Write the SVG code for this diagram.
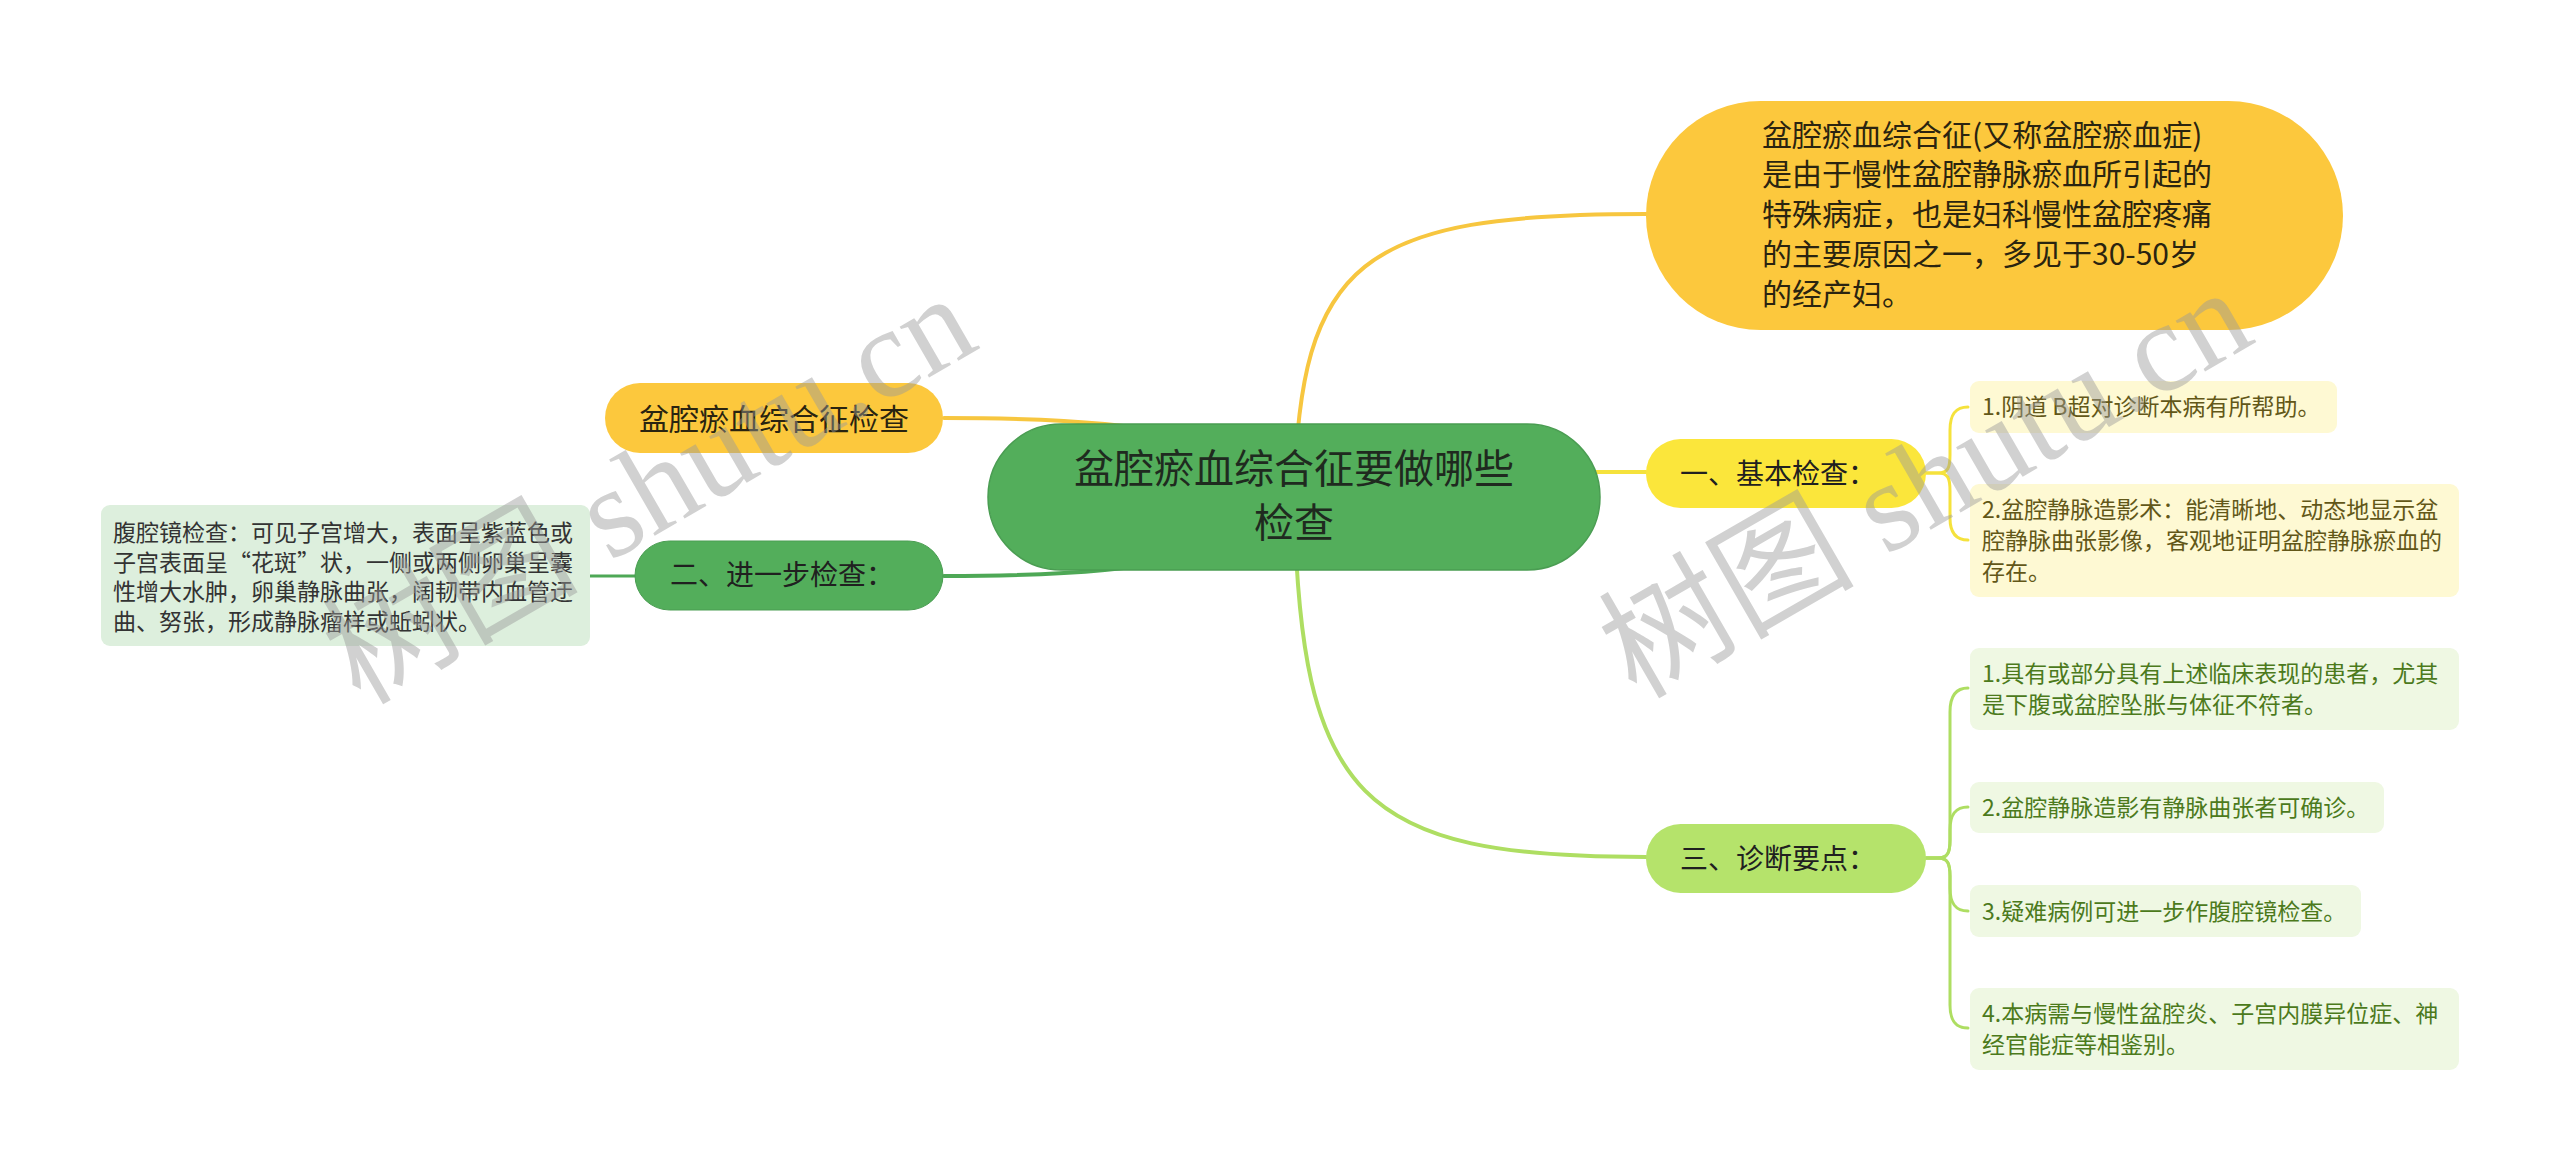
<svg xmlns="http://www.w3.org/2000/svg" width="2560" height="1171" viewBox="0 0 2560 1171">
<style>
text{font-family:"Noto Sans CJK SC","Liberation Sans",sans-serif}
.c{fill:none;stroke-linecap:round}
.t40{font-size:40px;fill:#1f2a1f}
.t30{font-size:30px;fill:#2a2410}
.t28{font-size:28px;fill:#202020}
.ty{font-size:23px;fill:#625718}
.tg{font-size:23px;fill:#4c7a1c}
.tl{font-size:23px;fill:#333333}
.wm{font-family:"Liberation Serif","Noto Sans CJK SC",serif;font-size:128px;fill:#9a9a9a;opacity:0.45}
</style>
<rect width="2560" height="1171" fill="#ffffff"/>
<g id="connectors">
<path class="c" d="M1294,497 C1300,260 1360,214 1646,214" stroke="#f7c63f" stroke-width="4"/>
<path class="c" d="M1294,472 L1646,472" stroke="#f5e23c" stroke-width="4"/>
<path class="c" d="M1294,497 C1300,800 1360,857 1646,857" stroke="#aede62" stroke-width="4"/>
<path class="c" d="M1294,460 C1150,420 1050,418 944,418" stroke="#f7c63f" stroke-width="4"/>
<path class="c" d="M1294,534 C1150,574 1050,576 944,576" stroke="#4ea856" stroke-width="4"/>
<path class="c" d="M590,576 L635,576" stroke="#4ea856" stroke-width="3"/>
<g stroke="#f5e23c" stroke-width="3" class="c">
<path class="c" d="M1926,473 L1938,473 C1948,473 1950,468 1950,455 L1950,430 C1950,415 1955,407 1968,407"/>
<path class="c" d="M1926,473 L1938,473 C1948,473 1950,478 1950,491 L1950,518 C1950,532 1955,540 1968,540"/>
</g>
<g stroke="#aede62" stroke-width="3" class="c">
<path class="c" d="M1926,858 L1938,858 C1948,858 1950,852 1950,840 L1950,712 C1950,697 1955,688 1968,688"/>
<path class="c" d="M1926,858 L1938,858 C1948,858 1950,852 1950,840 L1950,830 C1950,815 1955,807 1968,807"/>
<path class="c" d="M1926,858 L1938,858 C1948,858 1950,864 1950,876 L1950,888 C1950,903 1955,911 1968,911"/>
<path class="c" d="M1926,858 L1938,858 C1948,858 1950,864 1950,876 L1950,1005 C1950,1020 1955,1028 1968,1028"/>
</g>
</g>
<g id="root">
<rect x="988" y="424" width="612" height="146" rx="73" fill="#53ae5b" stroke="#4a9d52" stroke-width="1.5"/>
<text class="t40" x="1294" y="483" text-anchor="middle">盆腔瘀血综合征要做哪些</text>
<text class="t40" x="1294" y="537" text-anchor="middle">检查</text>
</g>
<g id="intro">
<rect x="1646" y="101" width="697" height="229" rx="114.5" fill="#fcc83d"/>
<text class="t30" x="1762" y="146">盆腔瘀血综合征(又称盆腔瘀血症)</text>
<text class="t30" x="1762" y="185">是由于慢性盆腔静脉瘀血所引起的</text>
<text class="t30" x="1762" y="225">特殊病症，也是妇科慢性盆腔疼痛</text>
<text class="t30" x="1762" y="265">的主要原因之一，多见于30-50岁</text>
<text class="t30" x="1762" y="305">的经产妇。</text>
</g>
<g id="check-title">
<rect x="605" y="383" width="338" height="70" rx="35" fill="#fcc83d"/>
<text class="t30" x="774" y="430" text-anchor="middle">盆腔瘀血综合征检查</text>
</g>
<g id="further">
<rect x="635" y="541" width="308" height="69" rx="34.5" fill="#53ae5b" stroke="#4a9d52" stroke-width="1"/>
<text class="t28" x="670" y="585">二、进一步检查：</text>
</g>
<g id="laparoscopy">
<rect x="101" y="505" width="489" height="141" rx="9" fill="#ddefdd"/>
<text class="tl" x="113" y="541">腹腔镜检查：可见子宫增大，表面呈紫蓝色或</text>
<text class="tl" x="113" y="570.5">子宫表面呈“花斑”状，一侧或两侧卵巢呈囊</text>
<text class="tl" x="113" y="600">性增大水肿，卵巢静脉曲张，阔韧带内血管迂</text>
<text class="tl" x="113" y="629.5">曲、努张，形成静脉瘤样或蚯蚓状。</text>
</g>
<g id="basic">
<rect x="1646" y="439" width="280" height="69" rx="34.5" fill="#fbe63b"/>
<text class="t28" x="1680" y="484">一、基本检查：</text>
</g>
<g id="basic-1">
<rect x="1970" y="381" width="367" height="52" rx="9" fill="#fef9d3"/>
<text class="ty" x="1982" y="415">1.阴道 B超对诊断本病有所帮助。</text>
</g>
<g id="basic-2">
<rect x="1970" y="484" width="489" height="113" rx="9" fill="#fef9d3"/>
<text class="ty" x="1982" y="518">2.盆腔静脉造影术：能清晰地、动态地显示盆</text>
<text class="ty" x="1982" y="549">腔静脉曲张影像，客观地证明盆腔静脉瘀血的</text>
<text class="ty" x="1982" y="580">存在。</text>
</g>
<g id="diag">
<rect x="1646" y="824" width="280" height="69" rx="34.5" fill="#b5e36b"/>
<text class="t28" x="1680" y="869">三、诊断要点：</text>
</g>
<g id="diag-1">
<rect x="1970" y="648" width="489" height="82" rx="9" fill="#eff8e3"/>
<text class="tg" x="1982" y="682">1.具有或部分具有上述临床表现的患者，尤其</text>
<text class="tg" x="1982" y="713">是下腹或盆腔坠胀与体征不符者。</text>
</g>
<g id="diag-2">
<rect x="1970" y="782" width="414" height="51" rx="9" fill="#eff8e3"/>
<text class="tg" x="1982" y="816">2.盆腔静脉造影有静脉曲张者可确诊。</text>
</g>
<g id="diag-3">
<rect x="1970" y="885" width="391" height="52" rx="9" fill="#eff8e3"/>
<text class="tg" x="1982" y="920">3.疑难病例可进一步作腹腔镜检查。</text>
</g>
<g id="diag-4">
<rect x="1970" y="988" width="489" height="82" rx="9" fill="#eff8e3"/>
<text class="tg" x="1982" y="1022">4.本病需与慢性盆腔炎、子宫内膜异位症、神</text>
<text class="tg" x="1982" y="1053">经官能症等相鉴别。</text>
</g>
<g id="watermarks">
<text class="wm" x="360" y="706" transform="rotate(-30 360 706)">树图 shutu.cn</text>
<text class="wm" x="1636" y="700" transform="rotate(-30 1636 700)">树图 shutu.cn</text>
</g>
</svg>
